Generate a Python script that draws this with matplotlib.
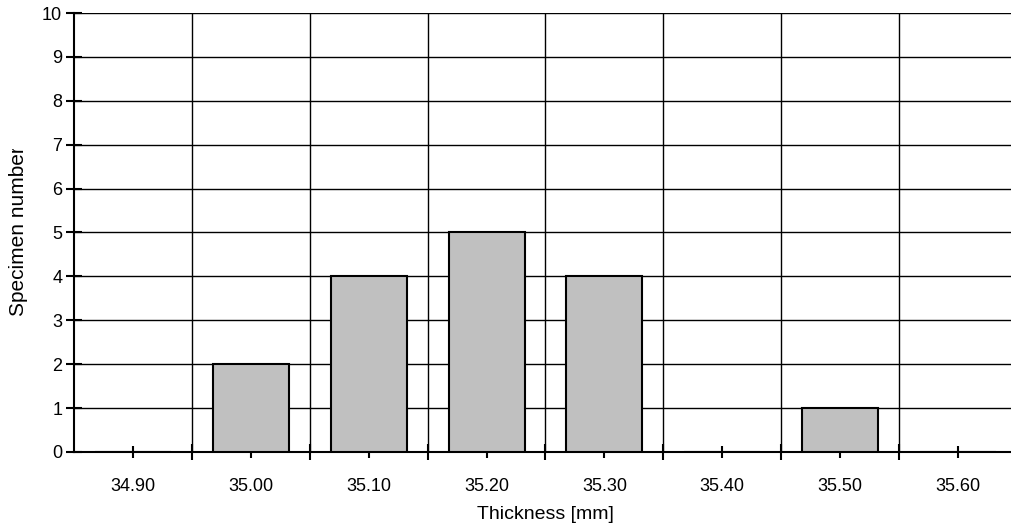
import numpy as np
import matplotlib.pyplot as plt
from matplotlib.transforms import Bbox, TransformedBbox

plt.rcParams['font.family'] = ['Liberation Sans', 'DejaVu Sans']

# data
thickness = ['34.90', '35.00', '35.10', '35.20', '35.30', '35.40', '35.50', '35.60']
counts = [0, 2, 4, 5, 4, 0, 1, 0]

fig = plt.figure(figsize=(10.12, 5.32), dpi=100)
ax = fig.add_axes([74/1012, 80/532, 943/1012, 439/532])

x = np.arange(len(thickness))
ax.bar(x, counts, width=0.645, color='#c0c0c0', edgecolor='black', linewidth=1.5, zorder=3)

ax.set_xlim(-0.5, len(thickness) - 0.5)
ax.set_ylim(0, 10)
ax.set_yticks(range(0, 11))
ax.set_xticks(x)
ax.set_xticklabels(thickness)
ax.set_xticks(x[:-1] + 0.5, minor=True)

# grid: horizontal at every integer, vertical at category boundaries
ax.yaxis.grid(True, color='black', linewidth=1.0, zorder=0)
ax.xaxis.grid(True, which='minor', color='black', linewidth=1.0, zorder=0)
ax.set_axisbelow(True)

for s in ['top', 'right']:
    ax.spines[s].set_visible(False)
for s in ['left', 'bottom']:
    ax.spines[s].set_linewidth(1.5)

ax.tick_params(axis='y', direction='inout', length=11, width=1.5, labelsize=13, pad=3)
ax.tick_params(axis='x', which='major', direction='inout', length=9, width=1.5, labelsize=13, pad=14)
ax.tick_params(axis='x', which='minor', direction='inout', length=12, width=1.5)

ax.set_xlabel('Thickness [mm]', fontsize=14, labelpad=8)
ax.set_ylabel('Specimen number', fontsize=15)
ax.yaxis.set_label_coords(-0.049, 0.503)

# the original label is cut off at its top end
lab = ax.yaxis.label
lab.set_clip_box(TransformedBbox(Bbox([[0, 0], [1, (532 - 149) / 532]]), fig.transFigure))
lab.set_clip_on(True)

fig.savefig('out.png', dpi=100)
